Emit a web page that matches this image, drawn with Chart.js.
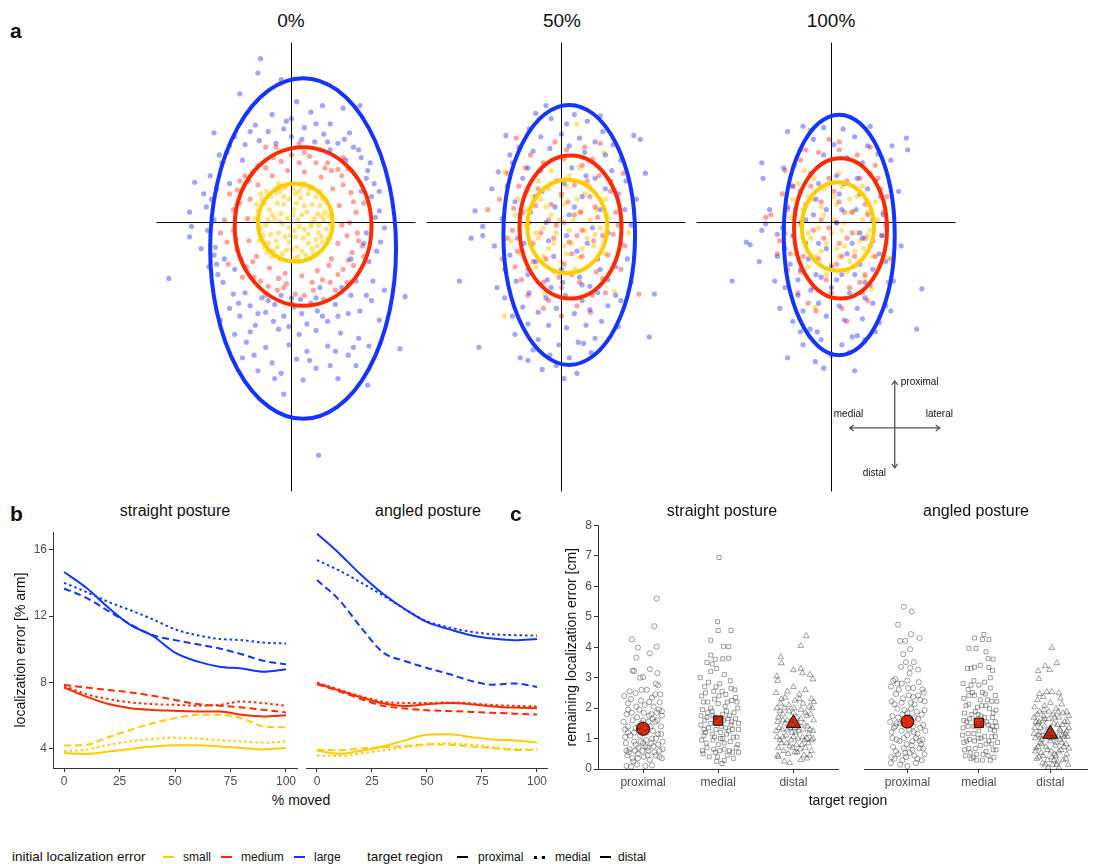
<!DOCTYPE html>
<html lang="en">
<head>
<meta charset="UTF-8" />
<title>Localization error</title>
<script src="https://cdn.jsdelivr.net/npm/chart.js"></script>
<style>
  body { margin: 0; width: 1097px; height: 864px; position: relative; overflow: hidden;
         background: #fff; color: #111; font-family: 'Liberation Sans', Arial, sans-serif; }
  canvas { position: absolute; }
  .txt { position: absolute; white-space: nowrap; line-height: 1.15; }
  .tag { font-weight: bold; font-size: 21px; }
  .ptitle { font-size: 19px; transform: translateX(-50%); }
  .ftitle { font-size: 16px; transform: translateX(-50%); }
  .axt { font-size: 14px; transform: translateX(-50%); }
  .lg { position: absolute; top: 849px; font-size: 12px; line-height: 16px; white-space: nowrap; }
  .lgh { font-size: 13.5px; }
  .key { position: absolute; top: 856px; width: 11px; height: 0; border-top: 2.5px solid #000; }
</style>
</head>
<body>

<div class="txt tag" style="left:10px;top:19px">a</div>
<div class="txt ptitle" style="left:291px;top:10px">0%</div>
<div class="txt ptitle" style="left:562px;top:10px">50%</div>
<div class="txt ptitle" style="left:831px;top:10px">100%</div>
<canvas id="a0" width="264" height="454" style="left:154px;top:40px"></canvas>
<canvas id="a50" width="264" height="454" style="left:424px;top:40px"></canvas>
<canvas id="a100" width="264" height="454" style="left:694px;top:40px"></canvas>

<div class="txt tag" style="left:10px;top:502px">b</div>
<div class="txt ftitle" style="left:175px;top:502px">straight posture</div>
<div class="txt ftitle" style="left:428px;top:502px">angled posture</div>
<canvas id="bStraight" width="298" height="269" style="left:0;top:523px"></canvas>
<canvas id="bAngled" width="243" height="269" style="left:306px;top:523px"></canvas>
<div class="txt axt" style="left:301px;top:792px">% moved</div>

<div class="txt tag" style="left:510px;top:502px">c</div>
<div class="txt ftitle" style="left:722px;top:502px">straight posture</div>
<div class="txt ftitle" style="left:976px;top:502px">angled posture</div>
<canvas id="cStraight" width="293" height="277" style="left:555px;top:516px"></canvas>
<canvas id="cAngled" width="242" height="269" style="left:855px;top:524px"></canvas>
<div class="txt axt" style="left:848px;top:792px">target region</div>

<div class="lg lgh" style="left:12px">initial localization error</div>
<div class="key" style="left:163px;border-color:#ffcc00"></div>
<div class="lg" style="left:183px">small</div>
<div class="key" style="left:221px;border-color:#ff2a00"></div>
<div class="lg" style="left:241px">medium</div>
<div class="key" style="left:294px;border-color:#1434ff"></div>
<div class="lg" style="left:314px">large</div>
<div class="lg lgh" style="left:367px">target region</div>
<div class="key" style="left:457px"></div>
<div class="lg" style="left:478px">proximal</div>
<div class="key" style="left:534px;border-top-style:dotted;border-top-width:3px"></div>
<div class="lg" style="left:555px">medial</div>
<div class="key" style="left:600px"></div>
<div class="lg" style="left:618px">distal</div>

<script>
  // ---- panel a: end positions (x = medial/lateral, y = distal/proximal), pairs x,y ----
  const smallAt0 = [-2.1,1.5, -1.2,2.3, 0.1,2.6, 1.3,2.2, 2.2,1.3, 2.5,0.2, 2.3,-1.1, 1.6,-2.0, 0.5,-2.6, -0.7,-2.4,
    -1.8,-1.6, -2.4,-0.4, -1.5,0.6, -0.6,1.4, 0.4,1.5, 1.2,0.8, 1.5,-0.3, 0.9,-1.2, -0.2,-1.5, -1.0,-0.8,
    -0.3,0.3, 0.5,0.2, 0.2,-0.6, -2.6,0.9, -2.2,-1.0, -1.4,-2.2, 0.0,-2.1, 1.1,-2.5, 2.0,-1.8, 2.7,-0.5,
    2.6,0.8, 1.9,2.0, 0.8,2.8, -0.5,2.7, -1.6,2.0, -0.9,0.1, 0.2,1.0, 1.8,0.3, 1.0,-0.5, -0.5,-1.1,
    -1.8,0.2, -1.1,1.5, 0.7,1.9, 1.6,1.4, 2.1,-0.8, 0.4,-1.9, -1.2,-1.4, -2.0,-0.2, -0.2,-0.4, 0.8,0.6,
    1.3,-1.6, -0.6,2.0, 2.3,0.5, -2.3,1.8, 0.0,3.0, 1.7,-2.4, -1.5,-2.6, 0.6,-3.0, 3.0,-0.1, -2.8,0.3,
    -2.5,-1.4, -1.9,-2.3, -0.9,-2.8, 0.3,-2.8, 1.4,-2.8, 2.4,-1.5, 2.9,0.5, 2.4,1.8, 1.4,2.6, 0.3,2.2,
    -0.9,2.4, -2.0,2.4, -2.7,1.4, -1.7,1.0, -0.8,0.7, 0.1,0.6, 1.0,1.3, 2.0,0.7, 2.1,-0.2, 1.3,-0.9,
    0.3,-1.1, -0.7,-0.1, -1.6,-0.9, -2.1,-1.9, -0.4,-2.1, 0.8,-2.2, 1.9,-1.3, 2.8,-1.2, 0.6,2.4, -0.2,1.8,
    -1.3,0.3, 1.6,0.0, 0.6,-0.3, -0.1,-1.0, -1.1,-1.9, 2.2,2.4, -2.4,2.2, 1.0,3.0, -1.0,3.0];
  const mediumAt0 = [-4.5,1.0, -4.2,2.5, -3.6,3.6, -2.6,4.4, -1.4,5.0, 0.0,5.2, 1.4,5.1, 2.8,4.6, 3.9,3.6, 4.6,2.3,
    5.0,0.8, 5.1,-0.8, 4.7,-2.3, 4.0,-3.6, 3.0,-4.6, 1.7,-5.2, 0.3,-5.5, -1.1,-5.2, -2.4,-4.5, -3.5,-3.4,
    -4.2,-2.1, -4.5,-0.6, -3.4,0.3, -3.2,1.8, -2.6,2.9, -1.5,3.6, -0.3,4.0, 1.0,3.9, 2.3,3.5, 3.2,2.6,
    3.7,1.3, 3.9,-0.2, 3.6,-1.6, 3.1,-2.8, 2.0,-3.7, 0.8,-4.1, -0.5,-3.9, -1.7,-3.5, -2.7,-2.6, -3.3,-1.4,
    -5.2,0.2, -5.0,-1.5, -4.0,3.2, -2.0,5.8, 0.6,6.1, 2.2,5.6, 4.4,4.1, 5.6,1.5, 5.5,-1.8, 4.3,-4.6,
    2.5,-5.9, 0.0,-6.2, -2.0,-5.6, -3.8,-4.2, 1.6,-4.6, -0.4,-4.7, 2.6,4.2, -3.0,3.9, 4.3,-1.0, -4.0,1.5,
    3.6,4.1, 4.8,-3.3, -4.8,2.2, -3.9,-2.8, -2.9,-4.2, -1.8,-4.9, -0.6,-5.0, 1.0,-5.6, 2.4,-4.4, 3.6,-4.0,
    4.4,-2.9, 5.2,-1.4, 4.5,0.0, 4.8,1.6, 4.0,2.9, 3.1,4.0, 1.9,4.6, 0.6,4.6, -0.8,4.7, -2.0,4.2,
    -3.3,3.2, -4.3,-1.3, -3.0,-3.0, -1.0,-4.3, 2.9,-3.3, 3.4,-5.2, 5.6,-2.6, 4.0,5.0, -5.5,-0.8, -4.9,-3.2,
    -1.2,5.8, 1.0,5.4];
  const largeAt0 = [-2.4,12.6, -2.6,11.5, -0.8,11.0, -4.0,9.9, 0.4,9.3, 2.4,9.0, 4.0,8.8, 5.3,9.0, -1.5,8.3, 0.0,8.0,
    1.5,8.5, 3.0,7.6, -3.2,7.0, -0.6,7.2, 1.0,7.3, 2.5,6.8, 4.5,6.9, -6.0,6.9, -4.8,5.9, -2.5,6.3,
    0.0,6.6, 3.6,6.1, 5.2,5.6, 6.1,4.6, -5.4,4.6, -6.3,3.6, 5.8,3.4, 3.0,5.6, -1.2,6.1, -7.5,3.1,
    -7.9,0.8, -7.75,-0.3, -7.9,-1.1, -9.5,-4.3, -6.2,1.8, -6.5,-0.6, -6.0,-2.5, -5.7,-4.0, 6.2,2.0, 6.5,0.4,
    6.9,-1.5, 5.8,-0.8, 6.0,-3.0, 6.3,-4.5, 8.8,-5.7, 7.2,-5.2, 8.4,-9.7, 6.8,-7.5, -4.5,-5.5, -3.2,-6.4,
    -2.0,-6.9, -0.6,-7.2, 0.8,-7.0, 2.0,-6.8, 3.4,-6.3, 4.6,-5.6, 5.3,-6.8, -1.3,-6.3, 0.2,-6.5, 1.5,-6.2,
    2.8,-7.6, -2.8,-7.9, -4.0,-7.2, -1.0,-8.2, 0.6,-8.6, 1.9,-8.3, 3.8,-8.5, 5.2,-8.9, -3.5,-9.2, -2.0,-9.6,
    -0.2,-9.4, 1.2,-9.9, 2.8,-9.5, 4.4,-10.2, -4.4,-8.6, -5.5,-7.5, -1.5,-10.8, 0.4,-10.5, 3.0,-11.0, 1.9,-11.2,
    -0.6,-13.2, -2.6,-11.4, 5.9,-12.5, 2.1,-17.9, -1.3,-12.0, 0.9,-12.1, 3.6,-12.0, -3.8,-10.4, 5.0,-11.0, -2.3,-5.8,
    3.9,-5.0, 6.0,-9.5, -4.8,3.0, 4.2,4.8, 5.0,-4.5, -5.2,-2.8, -4.4,-3.6, 4.6,-2.8, 5.4,2.4, -3.8,4.8,
    1.8,6.2, -0.8,-5.6, 0.7,-5.9, 2.2,-5.0, -5.8,2.6, -6.0,0.2, -5.9,-1.9, -5.3,-4.6, -4.1,-6.2, -1.4,-7.6,
    1.2,-7.8, 3.6,-7.2, 5.8,-5.6, 6.6,-2.2, 6.8,0.9, 6.4,3.0, 5.4,5.0, 4.1,6.4, 1.9,7.6, -0.4,7.8,
    -2.8,7.5, -4.4,6.6, -5.6,5.2, -6.6,1.2, -5.0,5.4, -3.6,6.0, -1.8,7.0, 0.8,6.4, 2.8,6.2, 4.8,5.8,
    5.9,4.0, 6.8,2.4, 7.2,-0.4, 6.2,-6.0, 4.4,-7.0, 2.4,-7.2, -0.2,-8.0, -2.6,-7.0, -4.8,-6.6, -6.4,-3.4,
    -7.0,-2.0, -6.8,2.2, -3.2,-8.4, 1.4,-10.6, -0.8,-11.6, 3.4,-9.9, 4.8,-9.6, -2.9,-10.2, 0.0,-5.8, -1.8,-6.0,
    1.9,-5.8, -3.6,-5.4, 5.6,-1.6, -5.8,-3.2];

  const smallAt50 = [1.2,7.6, 3.3,5.4, -4.4,3.9, 5.2,-0.8, 4.1,-5.3, -1.3,-5.5, -3.9,-1.4, -4.4,-7.2,
    -2.2,2.0, -1.0,2.6, 0.4,2.8, 1.8,2.2, 2.7,1.0, 3.0,-0.4, 2.5,-1.8, 1.4,-2.7, 0.0,-3.0, -1.4,-2.6,
    -2.4,-1.6, -2.8,-0.2, -2.6,1.0, -1.2,1.2, 0.2,1.4, 1.4,0.8, 1.8,-0.6, 0.8,-1.6, -0.6,-1.6, -1.4,-0.4,
    -0.2,0.2, 0.9,0.2, -0.4,-0.8, 2.2,2.8, -1.8,3.2, 3.4,1.8, -3.2,-2.4, 1.0,-3.6, -0.6,-3.8, 3.4,-2.4,
    0.6,3.6, -3.4,1.8, 2.0,-3.4, -2.0,-3.4, 3.6,0.4, -3.6,0.6, 1.4,4.2, -0.8,4.0, -1.6,1.8, 0.0,2.0,
    1.2,1.8, 2.2,0.2, 2.0,-1.2, 0.4,-2.4, -1.0,-2.0, -2.0,-0.8, -0.8,0.6, 0.6,-0.6, 1.6,-2.0, -1.8,-1.2,
    2.6,-0.9, -2.6,2.4, 0.2,-1.8];
  const mediumAt50 = [-3.5,6.5, -5.7,1.0, 6.0,-5.5, 3.0,6.1, 2.25,-6.9, 0.0,-7.2,
    -2.8,4.2, -1.4,4.6, 0.2,4.9, 1.6,4.4, 2.9,3.6, 3.8,2.4, 4.2,0.8, 4.0,-0.9, 3.6,-2.5, 2.7,-3.8,
    1.4,-4.6, 0.0,-5.0, -1.4,-4.6, -2.6,-3.6, -3.4,-2.2, -3.8,-0.6, -3.7,1.1, -3.3,2.8, -1.8,2.6, -0.4,3.2,
    1.0,2.9, 2.2,2.0, 2.8,0.4, 2.5,-1.4, 1.6,-2.6, 0.2,-3.2, -1.2,-2.8, -2.2,-1.6, -2.5,0.0, -2.0,1.3,
    -0.8,1.4, 0.5,1.6, 1.5,0.8, 1.6,-0.6, 0.6,-1.5, -0.6,-1.2, -1.0,0.2, 0.2,0.0, -4.6,-2.8, -4.2,3.8,
    4.8,3.8, 4.6,-3.6, -1.0,-6.0, 1.2,-6.4, 3.4,-5.4, -2.6,-5.6, -0.5,6.2, 1.8,5.8, -4.8,1.8, 4.9,-1.8,
    3.2,-4.3, -3.1,-4.4, 0.8,-4.0, 2.4,4.9, -3.0,0.8, -1.6,-0.8, 0.0,2.2, 1.2,-1.0, 2.0,3.2, -2.2,-3.0,
    3.2,-1.0, 0.8,-2.4, -0.4,-0.2, 1.0,0.6, -3.6,-3.4, 3.8,3.2, -2.4,5.2, 2.4,-5.6, 0.4,5.6, -1.4,-6.6,
    4.4,-0.2, -4.2,-1.2, 2.6,1.2, -0.2,-4.2];
  const largeAt50 = [-1.2,9.0, 1.0,8.3, -4.3,6.7, 5.6,6.7, 6.1,6.4, 6.5,3.8, -4.9,3.9, -6.7,0.9, -6.1,-0.3, -6.1,-1.0,
    -7.0,-1.2, -7.9,-4.5, -6.4,-9.6, -3.2,-10.4, -2.6,-10.6, -1.5,-11.3, 1.2,-11.6, 6.8,-8.8, 7.2,-5.5, 4.4,-8.0,
    1.3,-9.2, 1.7,-9.3, -0.8,8.0, 0.4,7.6, 2.0,7.8, 3.2,7.0, -2.5,7.2, -1.6,6.6, 0.0,6.8, 1.4,6.5,
    2.6,6.2, 4.0,6.0, -3.3,5.8, -2.2,5.5, -0.9,5.7, 0.6,5.9, 1.8,5.4, 3.4,5.2, 4.6,4.8, -3.8,4.6,
    -2.6,4.2, 3.9,4.0, 5.0,3.2, -4.2,2.8, 4.4,2.2, -3.6,1.6, 4.9,1.0, 5.4,-0.2, -4.6,0.3, -5.2,-1.8,
    -4.0,-2.5, 4.6,-1.6, 5.1,-2.8, 4.2,-3.4, -4.4,-3.6, -3.5,-4.5, 3.6,-4.4, -1.5,2.4, 0.2,3.0, 1.6,2.0,
    -2.4,0.8, 0.6,0.6, 2.4,-0.4, -1.0,-1.4, 1.2,-2.2, -2.0,-3.0, 0.0,-3.6, 2.8,-2.8, -0.5,1.2, 1.9,3.6,
    -2.9,-1.6, 3.0,1.0, -2.5,-5.4, -1.2,-5.8, 0.3,-5.6, 1.6,-6.0, 2.8,-5.4, -3.0,-6.5, -1.8,-6.9, -0.4,-6.6,
    1.0,-7.0, 2.2,-6.7, 3.6,-6.4, -2.6,-7.8, -1.0,-7.9, 0.4,-8.1, 1.9,-7.9, 3.1,-7.6, -3.6,-8.6, -1.8,-9.0,
    -0.2,-9.4, 2.6,-8.9, -0.9,-10.2, 0.6,-10.4, 2.3,-10.0, -2.2,-9.8, 4.6,-6.0, -4.4,-5.8, -3.8,-7.2, 5.4,-4.6,
    -5.0,-5.0, 0.1,-4.6, -1.1,-4.4, 1.4,-4.2, 2.2,-4.9, -0.4,-11.0, -3.0,3.4, -1.6,4.0, 0.8,4.2, 2.6,3.4,
    3.4,2.6, 3.6,-0.8, 3.0,-3.6, 1.6,-4.8, -0.8,-5.0, -2.6,-4.0, -3.4,-1.2, -3.2,0.6, -0.6,-2.6, 1.0,1.2,
    -1.2,0.0, 2.0,-1.6, 0.4,-1.0, -2.0,2.0, 4.2,-5.6, -4.0,5.2, 3.0,8.2, -2.0,8.4, 0.2,-12.0, -5.4,2.6,
    5.8,1.8];

  const smallAt100 = [-1.25,-6.5, 3.1,-5.1, 4.3,-2.7, -2.1,4.0,
    -1.8,2.0, -0.6,2.6, 0.8,2.8, 2.0,2.0, 2.8,0.8, 3.0,-0.6, 2.5,-2.0, 1.4,-3.0, 0.0,-3.2, -1.2,-2.6,
    -2.0,-1.6, -2.4,-0.2, -2.2,1.0, -0.8,1.2, 0.4,1.4, 1.6,0.8, 2.0,-0.8, 1.0,-1.8, -0.4,-1.6, -1.0,-0.4,
    0.2,0.2, 1.0,0.0, 0.0,-0.8, 2.4,2.8, -1.4,3.4, 3.4,1.6, -2.8,-2.4, 1.2,-3.8, -0.4,-4.0, 3.2,-2.6,
    0.6,3.8, -3.0,1.8, 1.8,-3.4, -1.8,-3.4, 3.6,0.2, -3.2,0.4, -2.6,3.0, 2.6,-4.2, -1.4,1.8, 0.2,2.0,
    1.4,1.8, 2.4,0.2, 2.2,-1.4, 0.6,-2.6, -0.8,-2.2, -1.8,-0.8, -0.6,0.6, 0.8,-0.6, 1.8,-2.2, -1.6,-1.2,
    2.8,-1.0, -2.4,2.4, 0.4,-2.0];
  const mediumAt100 = [-1.66,7.1, -5.1,0.4, -4.7,0.6, 4.3,2.0, 3.4,4.4, -2.4,4.8, -1.0,5.4, 0.6,5.6, 2.0,5.2, 3.0,3.8,
    3.8,2.6, 4.0,0.8, 3.9,-1.0, 3.4,-2.6, 2.6,-4.0, 1.4,-5.0, 0.0,-5.4, -1.4,-5.0, -2.4,-3.8, -3.2,-2.4,
    -3.6,-0.8, -3.4,1.0, -3.0,2.8, -1.6,2.8, -0.2,3.4, 1.2,3.2, 2.2,2.2, 2.8,0.6, 2.6,-1.2, 1.8,-2.6,
    0.4,-3.2, -1.0,-2.8, -2.0,-1.6, -2.4,0.0, -2.0,1.4, -0.8,1.6, 0.6,1.6, 1.6,0.8, 1.6,-0.8, 0.6,-1.6,
    -0.6,-1.2, -0.8,0.2, 0.4,0.0, -4.2,-2.4, 4.6,-2.8, -1.8,-6.2, 0.8,-6.6, 2.8,-6.0, 3.0,5.8, -3.6,4.0,
    4.4,-4.6, -2.6,-5.4, 1.2,-7.6, -0.2,6.4, -3.8,2.2, 2.2,-4.6, -2.8,0.6, -1.4,-0.6, 0.2,2.4, 1.2,-1.2,
    2.2,3.4, -2.2,-2.6, 3.2,-1.4, 0.8,-2.6, -0.2,-0.4, 1.0,0.8, -3.4,-3.6, 3.6,3.4, -2.0,5.6, 2.4,-5.4,
    0.6,6.2, -1.2,-6.8, 4.2,-0.2, -4.0,-1.4, 2.6,1.4, -0.4,-4.4];
  const largeAt100 = [-3.4,7.0, -0.6,7.3, 0.9,7.2, 5.8,6.5, 5.9,5.6, 4.7,5.9, -5.4,4.6, -3.7,4.2, -5.3,3.4, 4.6,4.8,
    -4.8,1.0, -5.1,-0.1, -5.4,-0.6, -4.2,-0.9, -6.6,-1.5, -6.3,-1.7, -7.7,-4.5, -4.4,-4.5, 7.0,-5.1, 5.4,-1.8,
    4.8,-4.5, 6.6,-8.2, 3.7,-7.7, -3.4,-10.4, -1.25,-10.7, 1.8,-11.4, -1.66,-8.2, -1.1,-8.4, 1.6,-8.8, 2.0,-8.7,
    -1.4,6.4, 0.2,6.0, 1.8,6.6, 2.8,5.9, -2.4,5.6, -0.6,5.2, 1.2,5.0, 2.4,4.6, 3.6,5.3, -2.9,4.4,
    -1.6,3.8, 0.4,3.6, 2.0,3.4, 3.4,3.2, -3.0,2.8, 3.8,2.0, -3.4,1.2, 4.0,0.6, -3.8,-0.4, 3.9,-1.0,
    -3.6,-2.0, 3.7,-2.4, -3.2,-3.2, 3.2,-3.6, -2.6,-4.4, 2.6,-4.6, -1.2,1.8, 0.6,2.2, 1.9,1.0, -2.0,0.2,
    0.4,0.0, 2.2,-0.8, -1.0,-1.6, 1.2,-2.4, -1.8,-2.8, 0.0,-3.4, -0.4,1.0, 1.6,-1.6, -1.6,-5.2, 0.0,-5.0,
    1.4,-5.4, 2.6,-5.8, -2.6,-5.6, -1.0,-6.2, 0.6,-6.4, 2.0,-6.6, 3.2,-6.2, -2.2,-6.8, -0.4,-7.2, 1.0,-7.5,
    2.4,-7.4, -3.0,-7.6, -0.8,-9.0, 0.8,-9.4, 2.6,-9.0, -2.2,-9.4, 0.0,-10.2, 3.0,-4.8, -3.6,-5.0, 4.2,-6.4,
    -4.0,-6.6, 0.4,-4.4, -0.8,-4.2, 1.8,-4.0, 3.4,-8.4, -2.4,-8.4, -2.4,2.4, -1.0,3.0, 1.0,3.0, 2.8,2.6,
    3.2,0.2, 3.0,-1.8, 2.2,-3.2, 0.8,-4.0, -1.2,-4.0, -2.4,-3.6, -3.0,-1.0, -2.8,1.0, -0.4,-2.0, 0.8,1.0,
    -1.4,0.6, 2.4,-1.2, 4.2,-3.0, -4.2,-2.6, 1.4,-10.0, -0.6,-11.2, 3.0,7.4, -2.2,7.4, 5.2,2.4, -5.6,-3.0,
    4.6,-6.8];

  // fitted ellipses [cx, cy, rx, ry]: large, medium, small
  const ellipsesAt0 = [[0.9, -2.0, 7.2, 13.1], [0.9, -0.3, 5.3, 6.1], [0.3, 0.0, 2.9, 3.0]];
  const ellipsesAt50 = [[0.6, -0.95, 5.1, 10.0], [0.7, -0.35, 3.95, 5.5], [0.45, -0.3, 3.1, 3.6]];
  const ellipsesAt100 = [[0.6, -0.95, 4.3, 9.25], [0.7, -0.45, 3.6, 5.4], [0.5, -0.3, 2.8, 3.4]];

  // ---- panel b: localization error [% arm] over % moved ----
  const moved = [0, 10, 20, 30, 40, 50, 60, 70, 80, 90, 100];
  const movedTicks = [0, 25, 50, 75, 100];
  const errorTicks = [4, 8, 12, 16];
  const straightLargeProx = [14.65, 13.7, 12.5, 11.45, 10.8, 9.8, 9.27, 8.95, 8.84, 8.65, 8.8];
  const straightLargeMed = [14.0, 13.45, 12.85, 12.35, 11.8, 11.2, 10.85, 10.62, 10.55, 10.4, 10.35];
  const straightLargeDist = [13.66, 13.1, 12.3, 11.5, 10.85, 10.55, 10.3, 10.05, 9.7, 9.3, 9.1];
  const straightMediumProx = [7.7, 7.15, 6.7, 6.45, 6.35, 6.3, 6.25, 6.25, 6.05, 5.95, 6.03];
  const straightMediumMed = [7.8, 7.3, 7.0, 6.8, 6.7, 6.65, 6.6, 6.65, 6.85, 6.75, 6.6];
  const straightMediumDist = [7.85, 7.7, 7.55, 7.4, 7.2, 6.95, 6.7, 6.6, 6.5, 6.35, 6.2];
  const straightSmallProx = [3.75, 3.7, 3.85, 4.0, 4.15, 4.22, 4.22, 4.15, 4.05, 3.97, 4.05];
  const straightSmallMed = [3.87, 3.95, 4.25, 4.45, 4.6, 4.68, 4.62, 4.52, 4.45, 4.38, 4.45];
  const straightSmallDist = [4.2, 4.25, 4.7, 5.15, 5.55, 5.85, 6.05, 6.05, 5.85, 5.35, 5.3];
  const angledLargeProx = [16.43, 15.3, 14.05, 12.95, 12.05, 11.3, 10.9, 10.55, 10.35, 10.25, 10.33];
  const angledLargeMed = [14.9, 14.3, 13.6, 12.85, 12.05, 11.35, 11.0, 10.75, 10.6, 10.55, 10.52];
  const angledLargeDist = [13.74, 12.6, 11.0, 9.55, 9.05, 8.65, 8.3, 7.9, 7.68, 7.75, 7.55];
  const angledMediumProx = [7.75, 7.35, 6.95, 6.6, 6.45, 6.55, 6.62, 6.55, 6.42, 6.35, 6.32];
  const angledMediumMed = [7.8, 7.4, 7.0, 6.7, 6.62, 6.62, 6.65, 6.6, 6.5, 6.45, 6.42];
  const angledMediumDist = [7.7, 7.3, 6.85, 6.45, 6.3, 6.2, 6.15, 6.1, 6.05, 6.0, 5.95];
  const angledSmallProx = [3.87, 3.67, 3.85, 4.1, 4.45, 4.78, 4.8, 4.65, 4.5, 4.45, 4.33];
  const angledSmallMed = [3.57, 3.55, 3.7, 3.88, 4.05, 4.2, 4.28, 4.2, 4.05, 3.95, 3.92];
  const angledSmallDist = [3.9, 3.88, 3.98, 4.05, 4.12, 4.22, 4.2, 4.1, 4.0, 3.9, 3.9];

  // ---- panel c: remaining localization error [cm], pairs (jittered region, value) ----
  const regions = ['proximal', 'medial', 'distal'];
  const remainingTicks = [0, 1, 2, 3, 4, 5, 6, 7, 8];
  const straightMeans = [1.32, 1.59, 1.5];
  const angledMeans = [1.61, 1.57, 1.19];
  const straightProximal = [1.18,5.6, 1.15,4.69, 0.85,4.26, 0.93,3.99, 1.18,4.02, 0.91,3.66, 1.09,3.8, 1.09,3.28, 1.19,3.15, 0.86,3.23,
    0.88,3.22, 0.96,3.0, 1.0,3.02, 1.17,2.8, 1.2,2.75, 0.78,0.1, 0.84,0.08, 0.92,0.15, 1.03,0.1, 1.12,0.12,
    0.75,2.4, 0.8,2.15, 0.9,2.5, 1.05,2.6, 1.12,2.35, 1.22,2.2, 1.25,1.9, 0.78,1.8, 0.86,1.6, 0.95,1.95,
    1.02,2.1, 1.08,1.75, 1.16,1.55, 1.24,1.4, 0.76,1.3, 0.83,1.1, 0.9,1.35, 0.98,1.5, 1.05,1.2, 1.12,1.0,
    1.2,1.15, 1.26,0.9, 0.77,0.85, 0.82,0.65, 0.88,0.9, 0.94,0.7, 1.0,0.85, 1.07,0.6, 1.14,0.75, 1.22,0.6,
    0.79,0.45, 0.86,0.35, 0.93,0.5, 1.01,0.4, 1.09,0.3, 1.17,0.45, 1.25,0.35, 0.8,1.95, 0.96,1.1, 1.04,0.95,
    1.1,1.4, 1.18,1.85, 0.84,2.3, 0.97,2.25, 1.14,2.05, 0.81,0.55, 1.06,0.7, 1.2,0.8, 0.92,1.7, 1.0,1.6,
    0.88,1.2, 1.13,1.65, 1.23,2.45, 0.74,1.55, 0.76,1.05, 0.8,1.4, 0.85,1.85, 0.89,0.6, 0.91,2.05, 0.95,1.25,
    0.99,0.6, 1.01,1.85, 1.03,1.35, 1.06,0.45, 1.08,2.2, 1.11,0.85, 1.13,1.25, 1.15,0.55, 1.19,1.6, 1.21,1.95,
    1.24,1.15, 1.26,0.65, 0.78,0.6, 0.82,2.55, 0.87,0.25, 0.94,1.4, 0.98,2.6, 1.07,1.55, 1.16,2.45, 1.22,0.4,
    0.9,0.8, 1.03,0.75, 1.17,1.0, 0.8,1.2, 0.97,0.9, 1.11,1.8, 0.93,0.35, 1.25,1.75];
  const straightMedial = [2.01,6.95, 1.99,4.84, 2.0,4.55, 2.17,4.55, 1.9,4.23, 2.07,4.03, 2.14,4.02, 1.9,3.74, 1.96,3.6, 2.06,3.62,
    2.14,3.64, 1.85,3.5, 1.92,3.45, 1.98,0.25, 2.05,0.18, 2.08,0.28, 1.76,3.0, 1.82,2.7, 1.9,3.2, 1.98,3.3,
    2.08,3.1, 2.16,2.9, 2.22,2.6, 1.78,2.4, 1.86,2.2, 1.94,2.55, 2.02,2.8, 2.1,2.45, 2.18,2.25, 2.26,2.0,
    1.79,1.95, 1.85,1.7, 1.92,1.9, 2.0,2.15, 2.06,1.8, 2.13,1.65, 2.21,1.85, 2.27,1.5, 1.77,1.45, 1.83,1.2,
    1.9,1.5, 1.97,1.3, 2.04,1.4, 2.11,1.15, 2.19,1.3, 2.25,1.05, 1.78,0.95, 1.85,0.7, 1.93,0.95, 2.0,0.8,
    2.08,0.65, 2.16,0.9, 2.24,0.7, 1.8,0.5, 1.88,0.4, 1.96,0.55, 2.12,0.45, 2.2,0.35, 2.27,0.55, 1.82,1.6,
    1.95,1.05, 2.03,1.0, 2.09,2.05, 2.17,1.45, 2.23,2.35, 1.87,2.85, 2.01,2.4, 1.93,1.75, 2.15,0.6, 2.07,1.6,
    1.81,1.1, 1.77,1.75, 1.8,2.2, 1.84,0.85, 1.87,1.35, 1.9,2.0, 1.94,0.65, 1.97,2.7, 2.0,1.6, 2.03,1.2,
    2.05,2.55, 2.08,0.85, 2.11,1.9, 2.14,1.25, 2.17,2.65, 2.2,1.05, 2.23,1.65, 2.26,0.8, 1.79,0.6, 1.83,2.5,
    1.92,1.15, 1.99,0.4, 2.06,1.0, 2.12,2.2, 2.19,0.55, 2.25,2.2, 1.86,1.85, 1.95,2.3, 2.02,0.6, 2.1,1.35,
    2.18,1.55, 1.81,1.3, 1.96,1.7, 2.15,1.75, 2.27,1.3];
  const straightDistal = [3.17,4.37, 3.1,4.05, 2.83,3.68, 2.84,3.48, 3.0,3.25, 3.1,3.3, 3.12,3.15, 3.22,3.1, 3.26,2.95, 2.78,3.05,
    2.79,2.9, 2.8,0.4, 2.88,0.25, 2.95,0.2, 3.1,0.3, 3.18,0.35, 3.22,0.45, 2.77,2.5, 2.84,2.3, 2.92,2.55,
    3.0,2.7, 3.08,2.45, 3.16,2.6, 3.24,2.3, 2.78,2.0, 2.86,1.8, 2.94,2.1, 3.02,2.25, 3.1,1.95, 3.18,1.75,
    3.25,2.0, 2.79,1.55, 2.85,1.3, 2.92,1.6, 3.0,1.45, 3.07,1.25, 3.14,1.5, 3.22,1.3, 3.27,1.6, 2.78,1.05,
    2.84,0.85, 2.9,1.1, 2.97,0.95, 3.04,0.8, 3.12,1.05, 3.2,0.85, 3.26,1.0, 2.8,0.7, 2.87,0.6, 2.95,0.75,
    3.02,0.55, 3.09,0.65, 3.16,0.7, 3.24,0.6, 2.82,1.9, 2.98,1.2, 3.05,1.7, 3.13,2.15, 2.89,2.35, 3.2,1.15,
    2.93,0.5, 3.06,1.0, 3.15,0.95, 2.81,1.35, 3.0,1.85, 2.77,1.25, 2.8,1.7, 2.83,2.15, 2.86,1.05, 2.89,1.5,
    2.91,0.85, 2.94,1.9, 2.96,1.35, 2.99,0.7, 3.01,2.0, 3.03,1.2, 3.06,1.5, 3.08,2.3, 3.11,0.8, 3.13,1.3,
    3.16,1.85, 3.19,1.4, 3.21,2.05, 3.24,0.95, 3.26,1.25, 2.79,0.45, 2.88,2.0, 2.97,1.6, 3.05,0.55, 3.14,0.45,
    3.23,1.8, 2.82,0.95, 2.92,1.3, 3.02,1.35, 3.1,1.65, 3.18,1.0, 3.27,2.2, 2.86,1.6, 3.0,1.05];
  const angledProximal = [0.95,5.51, 1.06,5.35, 0.87,4.9, 1.05,4.58, 1.17,4.45, 0.9,4.35, 0.97,4.35, 1.04,4.07, 0.94,3.9, 0.98,3.63,
    1.09,3.63, 0.91,3.47, 1.04,3.44, 0.8,3.0, 0.83,3.05, 1.03,3.25, 1.15,3.38, 0.77,0.2, 0.9,0.15, 1.0,0.1,
    1.12,0.2, 0.77,2.8, 0.84,2.55, 0.92,2.9, 1.0,3.0, 1.08,2.75, 1.16,2.95, 1.23,2.6, 0.78,2.3, 0.86,2.05,
    0.94,2.4, 1.02,2.5, 1.1,2.2, 1.18,2.35, 1.24,2.0, 0.79,1.8, 0.85,1.55, 0.93,1.85, 1.01,1.7, 1.08,1.45,
    1.15,1.7, 1.22,1.5, 0.78,1.25, 0.85,1.0, 0.92,1.3, 1.0,1.15, 1.07,0.95, 1.14,1.2, 1.21,1.0, 0.8,0.75,
    0.87,0.5, 0.95,0.7, 1.03,0.55, 1.1,0.45, 1.17,0.7, 1.24,0.5, 0.82,0.35, 0.98,0.4, 1.2,0.3, 1.13,1.95,
    0.88,2.7, 1.05,2.25, 0.96,1.5, 1.19,0.85, 0.83,1.45, 1.06,0.8, 0.76,1.6, 0.79,1.05, 0.82,2.2, 0.84,0.6,
    0.87,1.75, 0.89,0.95, 0.92,2.25, 0.95,1.05, 0.97,0.55, 1.0,1.9, 1.02,1.35, 1.05,2.05, 1.07,0.65, 1.1,1.75,
    1.12,1.05, 1.15,2.5, 1.17,0.95, 1.2,1.85, 1.22,0.7, 1.25,1.3, 0.78,0.4, 0.86,2.9, 0.93,0.3, 1.01,2.75,
    1.09,1.25, 1.18,1.4, 1.24,2.3, 0.81,1.4, 0.9,1.55, 0.99,0.85, 1.08,2.45, 1.14,0.35, 1.21,2.7, 0.96,2.0];
  const angledMedial = [1.94,4.45, 2.07,4.57, 2.14,4.4, 2.05,4.4, 1.86,4.1, 1.96,4.1, 2.1,3.98, 2.13,3.75, 2.2,3.73, 1.84,3.42,
    1.89,3.42, 1.94,3.46, 2.02,3.52, 2.14,3.45, 2.19,3.35, 2.16,3.1, 1.78,2.9, 1.85,2.7, 1.93,3.0, 2.0,2.85,
    2.08,2.95, 2.16,2.75, 2.23,2.5, 1.79,2.4, 1.86,2.2, 1.94,2.5, 2.02,2.35, 2.1,2.15, 2.18,2.3, 2.24,2.0,
    1.8,1.9, 1.87,1.7, 1.95,1.95, 2.03,1.8, 2.11,1.6, 2.19,1.75, 2.25,1.45, 1.78,1.4, 1.85,1.2, 1.93,1.45,
    2.0,1.3, 2.08,1.1, 2.16,1.35, 2.23,1.1, 1.79,0.9, 1.86,0.7, 1.94,0.95, 2.02,0.8, 2.1,0.6, 2.18,0.85,
    2.24,0.65, 1.81,0.45, 1.89,0.35, 1.97,0.5, 2.05,0.3, 2.13,0.45, 2.21,0.4, 1.83,1.6, 1.99,1.05, 2.06,1.55,
    2.14,0.95, 1.91,2.6, 2.09,2.55, 1.87,1.0, 2.2,1.9, 1.77,1.15, 1.8,0.65, 1.82,2.15, 1.85,1.45, 1.88,0.55,
    1.9,1.85, 1.93,1.2, 1.95,0.7, 1.98,2.1, 2.0,1.55, 2.03,1.05, 2.05,2.6, 2.08,1.75, 2.1,0.85, 2.13,1.5,
    2.15,2.05, 2.18,1.1, 2.2,0.65, 2.23,1.6, 2.26,0.9, 1.79,1.65, 1.86,2.5, 1.92,0.4, 1.99,1.85, 2.06,0.5,
    2.12,2.35, 2.19,1.45, 2.25,2.3, 1.83,0.95, 1.97,0.3, 2.04,2.15, 2.16,0.3, 1.89,2.85, 2.22,1.3];
  const angledDistal = [3.02,4.12, 3.09,3.6, 2.83,3.33, 2.93,3.5, 2.99,3.37, 2.84,3.06, 2.85,2.55, 2.95,2.62, 3.02,2.62, 3.12,2.58,
    2.82,2.35, 2.9,2.45, 3.14,2.4, 2.78,2.1, 2.85,1.95, 2.92,2.15, 3.0,2.25, 3.08,2.05, 3.16,2.2, 3.23,1.95,
    2.77,1.75, 2.84,1.6, 2.91,1.8, 2.98,1.7, 3.05,1.55, 3.12,1.75, 3.2,1.6, 3.26,1.8, 2.78,1.4, 2.85,1.25,
    2.92,1.45, 2.99,1.3, 3.06,1.15, 3.13,1.35, 3.21,1.2, 3.26,1.4, 2.79,1.05, 2.86,0.9, 2.93,1.1, 3.0,0.95,
    3.07,0.8, 3.14,1.0, 3.22,0.85, 2.8,0.7, 2.87,0.55, 2.94,0.75, 3.01,0.6, 3.08,0.45, 3.15,0.65, 3.23,0.5,
    2.81,0.35, 2.89,0.2, 2.96,0.3, 3.03,0.15, 3.1,0.25, 3.18,0.3, 3.25,0.15, 2.83,1.55, 2.96,1.2, 3.04,1.85,
    3.11,1.1, 3.19,0.75, 2.88,0.85, 3.02,1.05, 3.17,1.5, 2.9,1.65, 3.06,0.5, 2.84,1.15, 3.24,1.1, 2.97,0.05,
    3.12,0.05, 2.77,1.2, 2.79,0.6, 2.82,1.85, 2.84,0.4, 2.86,1.4, 2.88,1.0, 2.9,0.45, 2.92,1.7, 2.94,1.25,
    2.96,0.65, 2.98,1.95, 3.0,1.4, 3.02,0.4, 3.04,1.2, 3.06,1.75, 3.08,0.9, 3.1,1.5, 3.12,0.6, 3.14,1.3,
    3.16,0.9, 3.18,1.9, 3.2,1.1, 3.22,0.35, 3.24,1.6, 3.26,0.7, 2.8,1.6, 2.87,1.1, 2.93,0.15, 2.99,1.05,
    3.05,0.3, 3.11,1.95, 3.17,1.15, 3.23,1.3, 2.83,0.75, 2.91,2.0, 3.09,0.15];

  // ---- styling ----
  const errColors = { small: '#ffcc00', medium: '#ff2a00', large: '#1434ff' };
  const dotColors = { small: 'rgba(255,200,0,0.5)', medium: 'rgba(255,35,20,0.42)', large: 'rgba(30,40,255,0.42)' };
  const axisColor = '#333';
  Chart.defaults.font.family = "'Liberation Sans', Arial, sans-serif";
  Chart.defaults.color = '#4d4d4d';

  const pairs = flat => {
    const out = [];
    for (let i = 0; i < flat.length; i += 2) out.push({ x: flat[i], y: flat[i + 1] });
    return out;
  };
  const fixedTicks = list => scale => { scale.ticks = list.map(v => ({ value: v })); };
  const axisGrid = () => ({ display: true, drawOnChartArea: false, drawTicks: true, tickLength: 4, color: axisColor, lineWidth: 1 });
  const baseOptions = () => ({
    responsive: false,
    animation: false,
    events: [],
    layout: { padding: 0 },
    plugins: { legend: { display: false }, tooltip: { enabled: false } }
  });

  // crosshair, fitted ellipses and (optionally) the direction compass
  function panelAPlugin(ellipses, withCompass) {
    return {
      id: 'ellipses',
      afterDatasetsDraw(chart) {
        const { ctx, chartArea: a, scales: { x, y } } = chart;
        ctx.save();
        ctx.strokeStyle = '#000';
        ctx.lineWidth = 1;
        ctx.beginPath();
        ctx.moveTo(x.getPixelForValue(0), a.top);
        ctx.lineTo(x.getPixelForValue(0), a.bottom);
        ctx.moveTo(a.left, y.getPixelForValue(0));
        ctx.lineTo(a.right, y.getPixelForValue(0));
        ctx.stroke();
        const colors = [errColors.large, errColors.medium, errColors.small];
        ctx.lineWidth = 4;
        ellipses.forEach((e, i) => {
          const cx = x.getPixelForValue(e[0]);
          const cy = y.getPixelForValue(e[1]);
          const rx = Math.abs(x.getPixelForValue(e[0] + e[2]) - cx);
          const ry = Math.abs(y.getPixelForValue(e[1] + e[3]) - cy);
          ctx.strokeStyle = colors[i];
          ctx.beginPath();
          ctx.ellipse(cx, cy, rx, ry, 0, 0, Math.PI * 2);
          ctx.stroke();
        });
        if (withCompass) {
          const cx = x.getPixelForValue(4.9), cy = y.getPixelForValue(-15.8);
          const h = 45, up = 47, down = 40;
          ctx.strokeStyle = '#555';
          ctx.lineWidth = 1.3;
          ctx.beginPath();
          ctx.moveTo(cx - h, cy); ctx.lineTo(cx + h, cy);
          ctx.moveTo(cx, cy - up); ctx.lineTo(cx, cy + down);
          ctx.moveTo(cx - h + 4, cy - 3); ctx.lineTo(cx - h, cy); ctx.lineTo(cx - h + 4, cy + 3);
          ctx.moveTo(cx + h - 4, cy - 3); ctx.lineTo(cx + h, cy); ctx.lineTo(cx + h - 4, cy + 3);
          ctx.moveTo(cx - 3, cy - up + 4); ctx.lineTo(cx, cy - up); ctx.lineTo(cx + 3, cy - up + 4);
          ctx.moveTo(cx - 3, cy + down - 4); ctx.lineTo(cx, cy + down); ctx.lineTo(cx + 3, cy + down - 4);
          ctx.stroke();
          ctx.fillStyle = '#111';
          ctx.font = "10px 'Liberation Sans', Arial, sans-serif";
          ctx.textBaseline = 'middle';
          ctx.textAlign = 'left';
          ctx.fillText('proximal', cx + 6, cy - up + 1);
          ctx.fillText('medial', cx - 61, cy - 14);
          ctx.fillText('lateral', cx + 31, cy - 14);
          ctx.fillText('distal', cx - 32, cy + down + 5);
        }
        ctx.restore();
      }
    };
  }

  function makePanelA(id, large, medium, small, ellipses, withCompass) {
    const dots = (data, color) => ({ data: pairs(data), backgroundColor: color, borderWidth: 0, pointRadius: 2.6, pointHoverRadius: 0, clip: false });
    const options = baseOptions();
    options.scales = {
      x: { type: 'linear', display: false, min: -10.45, max: 9.6 },
      y: { type: 'linear', display: false, min: -20.68, max: 13.84 }
    };
    new Chart(document.getElementById(id), {
      type: 'scatter',
      data: { datasets: [dots(large, dotColors.large), dots(medium, dotColors.medium), dots(small, dotColors.small)] },
      options,
      plugins: [panelAPlugin(ellipses, withCompass)]
    });
  }

  makePanelA('a0', largeAt0, mediumAt0, smallAt0, ellipsesAt0, false);
  makePanelA('a50', largeAt50, mediumAt50, smallAt50, ellipsesAt50, false);
  makePanelA('a100', largeAt100, mediumAt100, smallAt100, ellipsesAt100, true);

  // ---- panel b ----
  const dashes = { proximal: [], medial: [2.5, 3], distal: [7, 4] };
  const line = (values, color, dash) => ({
    data: moved.map((m, i) => ({ x: m, y: values[i] })),
    borderColor: color, borderDash: dash, borderWidth: 2, pointRadius: 0,
    tension: 0.4, cubicInterpolationMode: 'monotone', fill: false
  });

  function makePanelB(id, sets, showY) {
    const options = baseOptions();
    options.scales = {
      x: {
        type: 'linear', min: -5, max: 105,
        afterBuildTicks: fixedTicks(movedTicks),
        afterFit: s => { s.height = 24; },
        grid: axisGrid(), border: { display: true, color: axisColor, width: 1 },
        ticks: { font: { size: 12 }, color: '#4d4d4d', padding: 2, maxRotation: 0 }
      },
      y: {
        type: 'linear', min: 2.85, max: 17.05, display: showY,
        afterBuildTicks: fixedTicks(errorTicks),
        afterFit: s => { if (showY) s.width = 53; },
        grid: axisGrid(), border: { display: true, color: axisColor, width: 1 },
        ticks: { font: { size: 12 }, color: '#4d4d4d', padding: 2 },
        title: { display: true, text: 'localization error [% arm]', color: '#111', font: { size: 14 }, padding: { top: 12.5, bottom: 0 } }
      }
    };
    new Chart(document.getElementById(id), { type: 'line', data: { datasets: sets }, options });
  }

  makePanelB('bStraight', [
    line(straightSmallProx, errColors.small, dashes.proximal),
    line(straightSmallMed, errColors.small, dashes.medial),
    line(straightSmallDist, errColors.small, dashes.distal),
    line(straightMediumProx, errColors.medium, dashes.proximal),
    line(straightMediumMed, errColors.medium, dashes.medial),
    line(straightMediumDist, errColors.medium, dashes.distal),
    line(straightLargeProx, errColors.large, dashes.proximal),
    line(straightLargeMed, errColors.large, dashes.medial),
    line(straightLargeDist, errColors.large, dashes.distal)
  ], true);
  makePanelB('bAngled', [
    line(angledSmallProx, errColors.small, dashes.proximal),
    line(angledSmallMed, errColors.small, dashes.medial),
    line(angledSmallDist, errColors.small, dashes.distal),
    line(angledMediumProx, errColors.medium, dashes.proximal),
    line(angledMediumMed, errColors.medium, dashes.medial),
    line(angledMediumDist, errColors.medium, dashes.distal),
    line(angledLargeProx, errColors.large, dashes.proximal),
    line(angledLargeMed, errColors.large, dashes.medial),
    line(angledLargeDist, errColors.large, dashes.distal)
  ], false);

  // ---- panel c ----
  const shapes = ['circle', 'rect', 'triangle'];
  const shapeRadius = [2.6, 2.8, 3.3];
  const hollow = (data, k) => ({
    data: pairs(data), pointStyle: shapes[k], pointRadius: shapeRadius[k], pointHoverRadius: 0,
    backgroundColor: 'rgba(0,0,0,0)', borderColor: 'rgba(40,40,40,0.55)', borderWidth: 0.8, clip: false
  });
  const meanSet = means => ({
    data: means.map((v, i) => ({ x: i + 1, y: v })), pointStyle: shapes, pointRadius: [6.5, 6.5, 8.5],
    pointHoverRadius: 0, backgroundColor: errColors.medium, borderColor: '#000', borderWidth: 1
  });

  function makePanelC(id, sets, means, xMax, showY) {
    const options = baseOptions();
    options.scales = {
      x: {
        type: 'linear', min: 0.4, max: xMax,
        afterBuildTicks: fixedTicks([1, 2, 3]),
        afterFit: s => { s.height = 24; },
        grid: axisGrid(), border: { display: true, color: axisColor, width: 1 },
        ticks: { font: { size: 12 }, color: '#4d4d4d', padding: 2, maxRotation: 0, callback: v => regions[v - 1] }
      },
      y: {
        type: 'linear', min: 0, max: 8, display: showY,
        afterBuildTicks: fixedTicks(remainingTicks),
        afterFit: s => { if (showY) s.width = 43; },
        grid: axisGrid(), border: { display: true, color: axisColor, width: 1 },
        ticks: { font: { size: 12 }, color: '#4d4d4d', padding: 2 },
        title: { display: true, text: 'remaining localization error [cm]', color: '#111', font: { size: 14 }, padding: { top: 8.5, bottom: 0 } }
      }
    };
    new Chart(document.getElementById(id), {
      type: 'scatter',
      data: { datasets: [hollow(sets[0], 0), hollow(sets[1], 1), hollow(sets[2], 2), meanSet(means)] },
      options
    });
  }

  makePanelC('cStraight', [straightProximal, straightMedial, straightDistal], straightMeans, 3.6, true);
  makePanelC('cAngled', [angledProximal, angledMedial, angledDistal], angledMeans, 3.52, false);
</script>
</body>
</html>
